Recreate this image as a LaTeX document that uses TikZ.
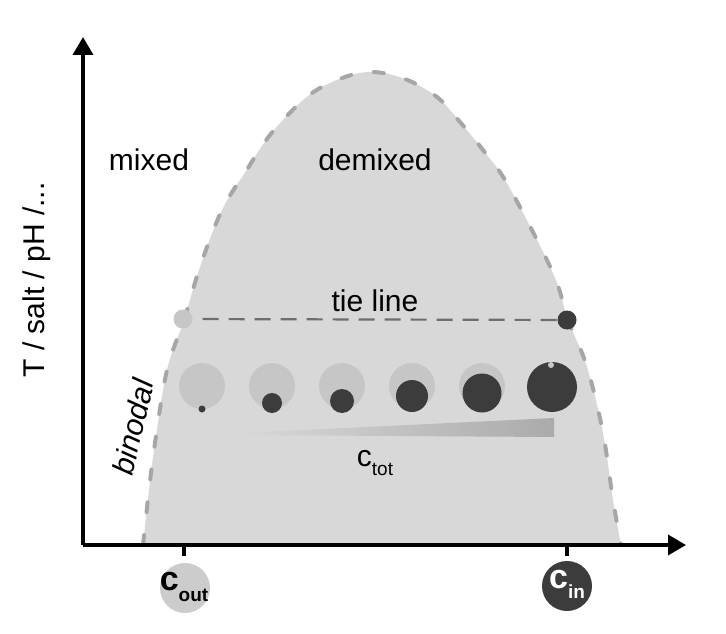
\documentclass[tikz,border=0pt]{standalone}
\usepackage{fontspec}
\setmainfont{Liberation Sans}
\usetikzlibrary{arrows.meta}
\definecolor{regionfill}{HTML}{D8D8D8}
\definecolor{borderdash}{HTML}{A6A6A6}
\definecolor{lightdrop}{HTML}{C6C6C6}
\definecolor{darkdrop}{HTML}{3C3C3C}
\definecolor{tiegray}{HTML}{6E6E6E}
\tikzset{
  axis/.style={line width=3.6pt, -{Triangle[length=18pt,width=20pt]}},
  tickmark/.style={line width=3.6pt},
  bigtext/.style={font=\fontsize{30}{36}\selectfont, inner sep=0pt},
  lightc/.style={circle, fill=lightdrop, inner sep=0pt},
  darkc/.style={circle, fill=darkdrop, inner sep=0pt},
  tie/.style={draw=tiegray, line width=2.2pt, dash pattern=on 16pt off 10pt},
  border/.style={draw=borderdash, line width=4pt, dash pattern=on 10pt off 23pt, line cap=round},
}
\newcommand{\binodalpts}{(143,545) (149,490) (155,443) (167,370) (184,320) (200,267) (222,210) (248,168) (264,143) (283,120) (312,93) (345,77) (373,72) (405,79) (437,97) (460,122) (483,150) (505,180) (537,240) (557,283) (568,320) (587,367) (603,433) (613,500) (621,545)}
\begin{document}
\begin{tikzpicture}[x=1pt,y=-1pt]
\useasboundingbox (0,0) rectangle (726,634);
% binodal region
\fill[regionfill] plot[smooth, tension=0.6] coordinates {\binodalpts} -- cycle;
\draw[border] plot[smooth, tension=0.6] coordinates {\binodalpts};
% tie line
\node[lightc, minimum size=19pt] (L) at (183,319) {};
\node[darkc, minimum size=19pt] (R) at (567,320) {};
\draw[tie, shorten <=10pt] (L) -- (R);
\node[bigtext] (tietext) at (375,301) {tie line};
% labels
\node[bigtext] (mixed) at (149,160) {mixed};
\node[bigtext] (demixed) at (375,160) {demixed};
\node[bigtext, rotate=90] (ylab) at (37,280) {T / salt / pH /...};
\node[bigtext, rotate=77, font=\fontsize{30}{36}\selectfont\itshape] (binodal) at (133,427) {binodal};
% droplets
\node[lightc, minimum size=46pt] (b1) at (202,386) {};
\node[darkc, minimum size=7pt] (d1) at (202,409) {};
\node[lightc, minimum size=46pt] (b2) at (272,386) {};
\node[darkc, minimum size=20pt] (d2) at (272,403) {};
\node[lightc, minimum size=46pt] (b3) at (342,386) {};
\node[darkc, minimum size=24pt] (d3) at (342,401) {};
\node[lightc, minimum size=46pt] (b4) at (412,386) {};
\node[darkc, minimum size=32pt] (d4) at (412,396) {};
\node[lightc, minimum size=46pt] (b5) at (482,386) {};
\node[darkc, minimum size=39pt] (d5) at (482,393) {};
\node[darkc, minimum size=50pt] (d6) at (552,387) {};
\node[lightc, minimum size=6pt] (b6) at (551,365) {};
% concentration wedge
\shade[left color=regionfill, right color=black!33] (240,433) -- (554,418) -- (554,437) -- (240,435) -- cycle;
\node[inner sep=0pt] (ctot) at (375,463) {\fontsize{30}{36}\selectfont c\raisebox{-0.3em}{\fontsize{19}{20}\selectfont tot}};
% axes
\coordinate (O) at (83,545);
\coordinate (ytip) at (83,37);
\coordinate (xtip) at (686,545);
\draw[axis] (O) -- (ytip);
\draw[axis] (O) -- (xtip);
\coordinate (t1) at (184,545);
\coordinate (t2) at (567,545);
\draw[tickmark] (t1) -- ++(0,11);
\draw[tickmark] (t2) -- ++(0,11);
% c_out and c_in
\node[circle, fill=black!20, minimum size=50pt, inner sep=0pt] (cout) at (185,588) {};
\node[inner sep=0pt] (couttext) at (184,587) {\fontsize{34}{34}\selectfont\bfseries c\raisebox{-0.3em}{\fontsize{19}{20}\selectfont\bfseries out}};
\node[circle, fill=darkdrop, minimum size=50pt, inner sep=0pt] (cin) at (567,586) {};
\node[inner sep=0pt, text=white] (cintext) at (567,584) {\fontsize{34}{34}\selectfont\bfseries c\raisebox{-0.3em}{\fontsize{19}{20}\selectfont\bfseries in}};
\end{tikzpicture}
\end{document}
